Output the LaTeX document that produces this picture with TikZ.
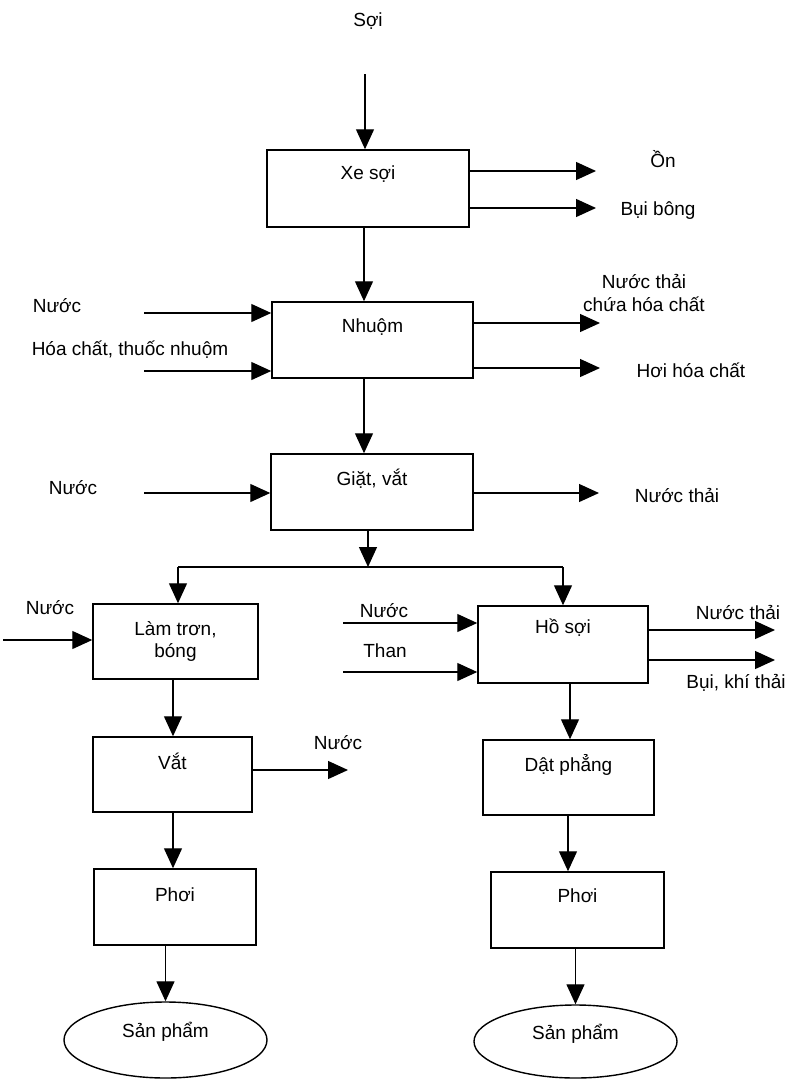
\documentclass[tikz,border=0pt]{standalone}
\usepackage{fontspec}
\setmainfont{Liberation Sans}
\usetikzlibrary{arrows.meta,shapes.geometric}

\begin{document}
\begin{tikzpicture}[x=1pt,y=-1pt,
  font=\fontsize{19}{22.5}\selectfont,
  procbox/.style={draw,line width=1.5pt,inner sep=0pt},
  prodell/.style={draw,ellipse,line width=1.4pt,inner sep=0pt},
  txt/.style={inner sep=0pt,align=center},
  inlbl/.style={anchor=center,yshift=-#1},
  arr/.style={line width=1.3pt,-{Triangle[length=20pt,width=18pt]}},
  flow/.style={line width=1.3pt}]

\useasboundingbox (0,0) rectangle (791,1079);

% process boxes
\node[procbox,minimum width=202pt,minimum height=77pt,
  label={[inlbl=25pt]north:Xe sợi}] (xe) at (368,188.5) {};
\node[procbox,minimum width=201pt,minimum height=76pt,
  label={[inlbl=26pt]north:Nhuộm}] (nhuom) at (372.5,340) {};
\node[procbox,minimum width=202pt,minimum height=76pt,
  label={[inlbl=25pt]north:Giặt, vắt}] (giat) at (372,492) {};
\node[procbox,minimum width=165pt,minimum height=75pt,
  label={[inlbl=38pt,align=center]north:Làm trơn,\\bóng}] (lam) at (175.5,641.5) {};
\node[procbox,minimum width=170pt,minimum height=77pt,
  label={[inlbl=22pt]north:Hồ sợi}] (ho) at (563,644.5) {};
\node[procbox,minimum width=159pt,minimum height=75pt,
  label={[inlbl=25pt]north:Vắt}] (vat) at (172.5,774.5) {};
\node[procbox,minimum width=171pt,minimum height=75pt,
  label={[inlbl=26pt]north:Dật phẳng}] (dat) at (568.5,777.5) {};
\node[procbox,minimum width=162pt,minimum height=76pt,
  label={[inlbl=26pt]north:Phơi}] (phoi1) at (175,907) {};
\node[procbox,minimum width=173pt,minimum height=76pt,
  label={[inlbl=24pt]north:Phơi}] (phoi2) at (577.5,910) {};

% products
\node[prodell,minimum width=203pt,minimum height=76pt,
  label={[inlbl=30pt]north:Sản phẩm}] (sp1) at (165.5,1040) {};
\node[prodell,minimum width=203pt,minimum height=73pt,
  label={[inlbl=29pt]north:Sản phẩm}] (sp2) at (575.5,1041.5) {};

% inputs and outputs
\node[txt] (soi) at (368,21) {Sợi};
\node[txt] (on) at (663,159) {Ồn};
\node[txt] (buibong) at (658,211) {Bụi bông};
\node[txt] (nuoc1) at (57,306) {Nước};
\node[txt] (hoachat) at (130,350) {Hóa chất, thuốc nhuộm};
\node[txt] (ntcd) at (644,293) {Nước thải\\chứa hóa chất};
\node[txt] (hoi) at (691,370) {Hơi hóa chất};
\node[txt] (nuoc2) at (73,488) {Nước};
\node[txt] (nt1) at (677,496) {Nước thải};
\node[txt] (nuoc3) at (50,608) {Nước};
\node[txt] (nuoc4) at (384,611) {Nước};
\node[txt] (than) at (385,651) {Than};
\node[txt] (nt2) at (738,613) {Nước thải};
\node[txt] (buikhi) at (736,683) {Bụi, khí thải};
\node[txt] (nuoc5) at (338,743) {Nước};

% free ends of the side arrows
\coordinate (soiS) at (365,74);
\coordinate (onE) at (596,171);
\coordinate (bbE) at (596,208);
\coordinate (nuoc1S) at (144,313);
\coordinate (hoachatS) at (144,371);
\coordinate (ntcdE) at (600,323);
\coordinate (hoiE) at (600,368);
\coordinate (nuoc2S) at (144,493);
\coordinate (nt1E) at (599,493);
\coordinate (nuoc3S) at (3,640);
\coordinate (nuoc4S) at (343,623);
\coordinate (thanS) at (343,672);
\coordinate (nt2E) at (775,630);
\coordinate (buikhiE) at (775,660);
\coordinate (nuoc5E) at (348,770);

% vertical lines of the main flow
\coordinate (c1) at (364,0);
\coordinate (split) at (368,567);
\coordinate (splitL) at (178,567);
\coordinate (splitR) at (563,567);
\coordinate (cl) at (173,0);
\coordinate (cr1) at (570,0);
\coordinate (cr2) at (568,0);

% main flow
\draw[arr] (soiS) -- (soiS |- xe.north);
\draw[arr] (xe.south -| c1) -- (nhuom.north -| c1);
\draw[arr] (nhuom.south -| c1) -- (giat.north -| c1);
\draw[arr] (giat.south -| split) -- (split);
\draw[flow] (splitL) -- (splitR);
\draw[arr] (splitL) -- (lam.north -| splitL);
\draw[arr] (splitR) -- (ho.north -| splitR);
\draw[arr] (lam.south -| cl) -- (vat.north -| cl);
\draw[arr] (vat.south -| cl) -- (phoi1.north -| cl);
\draw[arr] (phoi1.south -| sp1.north) -- (sp1.north);
\draw[arr] (ho.south -| cr1) -- (dat.north -| cr1);
\draw[arr] (dat.south -| cr2) -- (phoi2.north -| cr2);
\draw[arr] (phoi2.south -| sp2.north) -- (sp2.north);

% side streams
\draw[arr] (xe.east |- onE) -- (onE);
\draw[arr] (xe.east |- bbE) -- (bbE);
\draw[arr] (nuoc1S) -- (nuoc1S -| nhuom.west);
\draw[arr] (hoachatS) -- (hoachatS -| nhuom.west);
\draw[arr] (nhuom.east |- ntcdE) -- (ntcdE);
\draw[arr] (nhuom.east |- hoiE) -- (hoiE);
\draw[arr] (nuoc2S) -- (nuoc2S -| giat.west);
\draw[arr] (giat.east |- nt1E) -- (nt1E);
\draw[arr] (nuoc3S) -- (nuoc3S -| lam.west);
\draw[arr] (nuoc4S) -- (nuoc4S -| ho.west);
\draw[arr] (thanS) -- (thanS -| ho.west);
\draw[arr] (ho.east |- nt2E) -- (nt2E);
\draw[arr] (ho.east |- buikhiE) -- (buikhiE);
\draw[arr] (vat.east |- nuoc5E) -- (nuoc5E);
\end{tikzpicture}
\end{document}
